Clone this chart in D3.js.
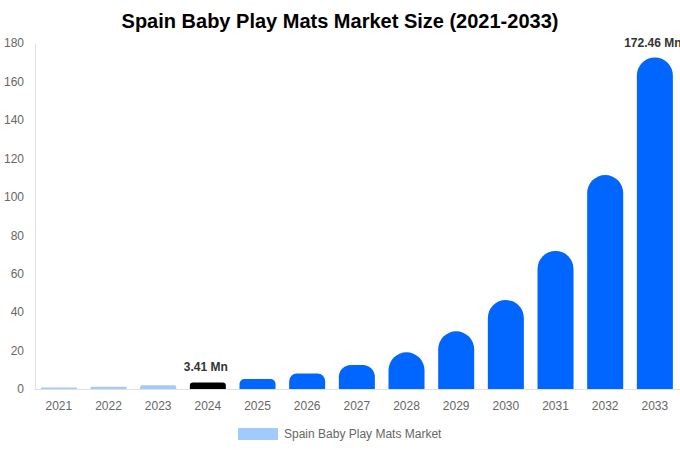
<!DOCTYPE html>
<html>
<head>
<meta charset="utf-8">
<script src="https://cdn.jsdelivr.net/npm/d3@7"></script>
<style>
    body { margin: 0; background: #fff; font-family: "Liberation Sans", Arial, sans-serif; }
    svg { display: block; }
</style>
</head>
<body>
<script>
// Chart data
var years = ["2021", "2022", "2023", "2024", "2025", "2026", "2027",
             "2028", "2029", "2030", "2031", "2032", "2033"];
var marketSize = [0.8, 1.2, 1.9, 3.41, 5.2, 8.0, 12.5, 19.1, 30.0, 46.3,
                  71.8, 111.3, 172.46];
var yTicks = [0, 20, 40, 60, 80, 100, 120, 140, 160, 180];
var seriesName = "Spain Baby Play Mats Market";
var labelled = {"2024": "3.41 Mn", "2033": "172.46 Mn"};

var W = 680, H = 450;
var margin = {top: 43, right: 0, bottom: 61, left: 35},
    width = W - margin.left - margin.right,
    height = H - margin.top - margin.bottom;

var svg = d3.select("body").append("svg")
    .attr("width", W)
    .attr("height", H);

// Title
svg.append("text")
    .attr("x", W / 2)
    .attr("y", 28)
    .attr("text-anchor", "middle")
    .attr("font-size", "20px")
    .attr("font-weight", "bold")
    .attr("fill", "#000")
    .text("Spain Baby Play Mats Market Size (2021-2033)");

var g = svg.append("g")
    .attr("transform", "translate(" + margin.left + "," + margin.top + ")");

var xScale = d3.scaleBand().domain(years).range([-1, width - 0.3])
    .paddingInner(0.275).paddingOuter(0.1375);
var yScale = d3.scaleLinear().domain([0, 180]).range([height, 0]);

function barColor(year) {
    var y = +year;
    if (y < 2024) return "#a2cbf9";
    if (y === 2024) return "#000000";
    return "#0066ff";
}

// bar with rounded top corners
function barPath(x, y, w, h) {
    var r = Math.min(w / 2, h / 2);
    return "M" + x + "," + (y + h) +
        "V" + (y + r) +
        "A" + r + "," + r + " 0 0 1 " + (x + r) + "," + y +
        "H" + (x + w - r) +
        "A" + r + "," + r + " 0 0 1 " + (x + w) + "," + (y + r) +
        "V" + (y + h) + "Z";
}

// Y axis
var yAxis = d3.axisLeft(yScale).tickValues(yTicks).tickSize(0).tickPadding(11);
var yG = g.append("g").call(yAxis);
yG.select(".domain").attr("stroke", "#e0e0e0");
yG.selectAll("text")
    .attr("font-size", "12px")
    .attr("fill", "#666")
    .attr("font-family", "Liberation Sans, Arial, sans-serif");

// Bars
g.selectAll("path.bar")
    .data(years)
    .enter()
    .append("path")
    .attr("class", "bar")
    .attr("fill", function(d) { return barColor(d); })
    .attr("d", function(d, i) {
        var x = xScale(d);
        var y = yScale(marketSize[i]);
        return barPath(x, y, xScale.bandwidth(), height - y);
    });

// X axis
var xAxis = d3.axisBottom(xScale).tickSize(0).tickPadding(12);
var xG = g.append("g")
    .attr("transform", "translate(0," + height + ")")
    .call(xAxis);
xG.select(".domain").attr("stroke", "#e0e0e0");
xG.selectAll("text")
    .attr("font-size", "12px")
    .attr("fill", "#666")
    .attr("font-family", "Liberation Sans, Arial, sans-serif");

// Value labels
g.selectAll("text.label")
    .data(years.filter(function(d) { return labelled[d]; }))
    .enter()
    .append("text")
    .attr("class", "label")
    .attr("x", function(d) {
        return xScale(d) + xScale.bandwidth() / 2 - 2;
    })
    .attr("y", function(d) {
        return yScale(marketSize[years.indexOf(d)]) - 11;
    })
    .attr("text-anchor", "middle")
    .attr("font-size", "12px")
    .attr("font-weight", "bold")
    .attr("fill", "#333")
    .text(function(d) { return labelled[d]; });

// Legend
var legend = svg.append("g").attr("transform", "translate(238,428)");
legend.append("rect")
    .attr("width", 40)
    .attr("height", 12)
    .attr("fill", "#a2cbf9");
legend.append("text")
    .attr("x", 46)
    .attr("y", 10)
    .attr("font-size", "12px")
    .attr("fill", "#666")
    .text(seriesName);
</script>
</body>
</html>
